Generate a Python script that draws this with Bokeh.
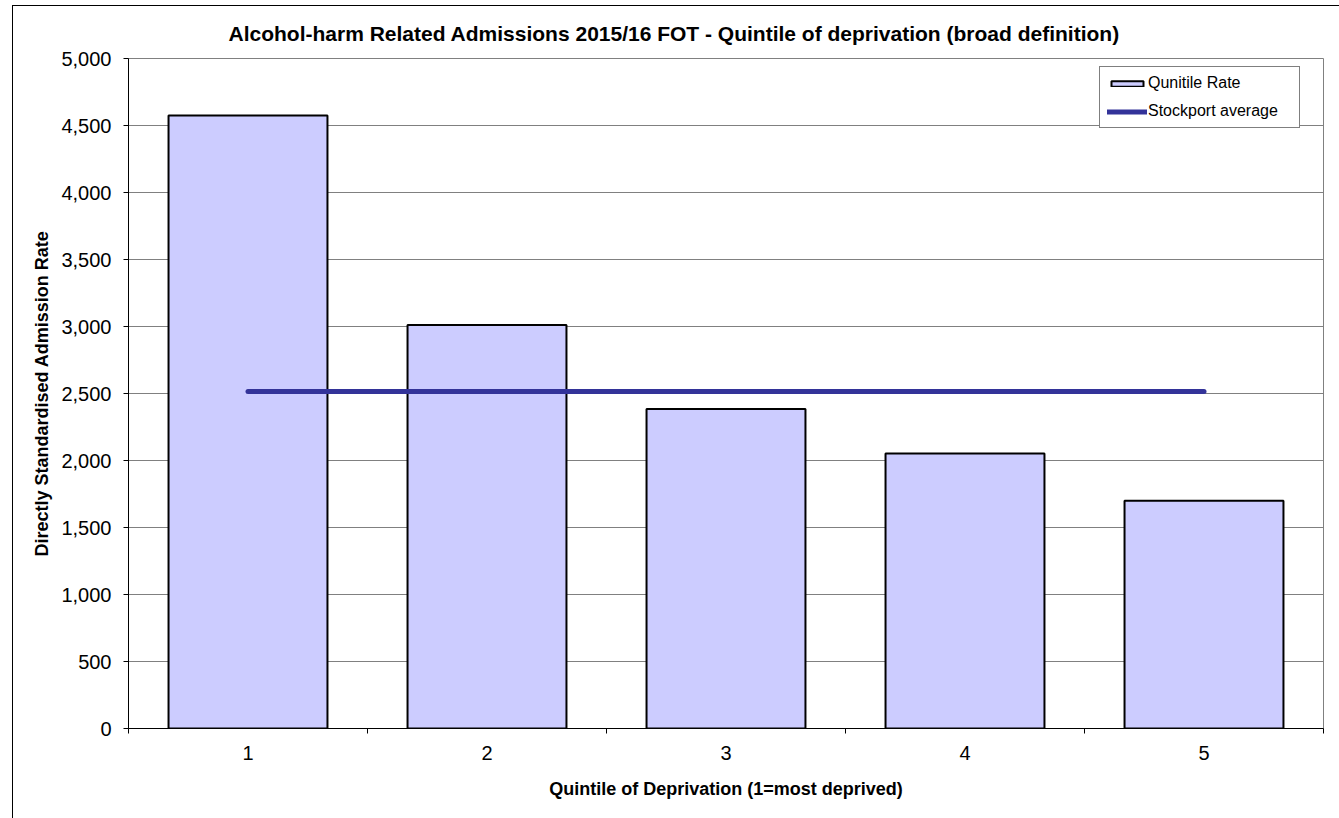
from bokeh.plotting import figure
from bokeh.models import (ColumnDataSource, FixedTicker, NumeralTickFormatter, Legend,
                          LegendItem, Range1d, Title)
from bokeh.embed import file_html
from bokeh.resources import INLINE

# ---- data ----
quintiles = [1, 2, 3, 4, 5]
quintile_labels = ["1", "2", "3", "4", "5"]
quintile_rate = [4575, 3012, 2385, 2052, 1700]
stockport_average = 2515
y_ticks = [0, 500, 1000, 1500, 2000, 2500, 3000, 3500, 4000, 4500, 5000]

FONT = "Liberation Sans"

p = figure(frame_width=1195, frame_height=670, width=1327, height=813,
           min_border_left=115, min_border_right=17, min_border_top=52, min_border_bottom=90,
           x_range=Range1d(0.5, 5.5), y_range=Range1d(0, 5000),
           output_backend="svg", toolbar_location=None, margin=(5, 0, 0, 12),
           styles={"border-left": "1px solid #000", "border-top": "1px solid #000"})

p.title = Title(text="Alcohol-harm Related Admissions 2015/16 FOT - Quintile of deprivation (broad definition)",
                align="left", offset=100, text_font=FONT, text_font_size="21px",
                text_font_style="bold", text_color="#000000", standoff=27)

p.outline_line_color = "#808080"
p.outline_line_width = 1
p.background_fill_color = "white"
p.border_fill_color = "white"

src = ColumnDataSource(dict(x=quintiles, top=quintile_rate))
bars = p.vbar(x="x", top="top", width=0.665, bottom=0, source=src,
              fill_color="#CCCCFF", line_color="#000000", line_width=2)

avg_x = [quintiles[0], quintiles[-1]]
avg_y = [stockport_average, stockport_average]
avg = p.line(avg_x, avg_y, line_color="#333399", line_width=5, line_cap="round")

# axes
p.xgrid.visible = False
p.ygrid.ticker = FixedTicker(ticks=y_ticks)
p.ygrid.grid_line_color = "#808080"
p.ygrid.grid_line_width = 1

yax = p.yaxis[0]
yax.ticker = FixedTicker(ticks=y_ticks)
yax.formatter = NumeralTickFormatter(format="0,0")
yax.axis_label = "Directly Standardised Admission Rate"
yax.axis_label_text_font = FONT
yax.axis_label_text_font_style = "bold"
yax.axis_label_text_font_size = "18px"
yax.axis_label_text_color = "#000000"
yax.major_label_text_font = FONT
yax.major_label_text_font_size = "20px"
yax.major_label_text_color = "#000000"
yax.major_tick_out = 5
yax.major_tick_in = 0
yax.minor_tick_out = 0
yax.axis_line_color = "#000000"
yax.major_tick_line_color = "#000000"
yax.major_label_standoff = 12
yax.axis_label_standoff = 6

xax = p.xaxis[0]
bounds = [q - 0.5 for q in quintiles] + [quintiles[-1] + 0.5]
xax.ticker = FixedTicker(ticks=quintiles, minor_ticks=bounds)
xax.major_label_overrides = {q: l for q, l in zip(quintiles, quintile_labels)}
xax.axis_label = "Quintile of Deprivation (1=most deprived)"
xax.axis_label_text_font = FONT
xax.axis_label_text_font_style = "bold"
xax.axis_label_text_font_size = "18px"
xax.axis_label_text_color = "#000000"
xax.major_label_text_font = FONT
xax.major_label_text_font_size = "20px"
xax.major_label_text_color = "#000000"
xax.major_tick_out = 0
xax.major_tick_in = 0
xax.minor_tick_out = 5
xax.minor_tick_in = 0
xax.minor_tick_line_color = "#000000"
xax.axis_line_color = "#000000"
xax.major_label_standoff = 12
xax.axis_label_standoff = 16

legend = Legend(items=[LegendItem(label="Qunitile Rate", renderers=[bars]),
                       LegendItem(label="Stockport average", renderers=[avg])],
                location=(971, 600), orientation="vertical",
                label_text_font=FONT, label_text_font_size="16px",
                label_text_color="#000000",
                glyph_width=40, glyph_height=7, label_height=18, spacing=10,
                padding=7, margin=0, label_standoff=1, label_width=144,
                border_line_color="#000000", border_line_width=1,
                background_fill_color="white", background_fill_alpha=1)
p.add_layout(legend)

open("out.html", "w").write(file_html(p, INLINE))
